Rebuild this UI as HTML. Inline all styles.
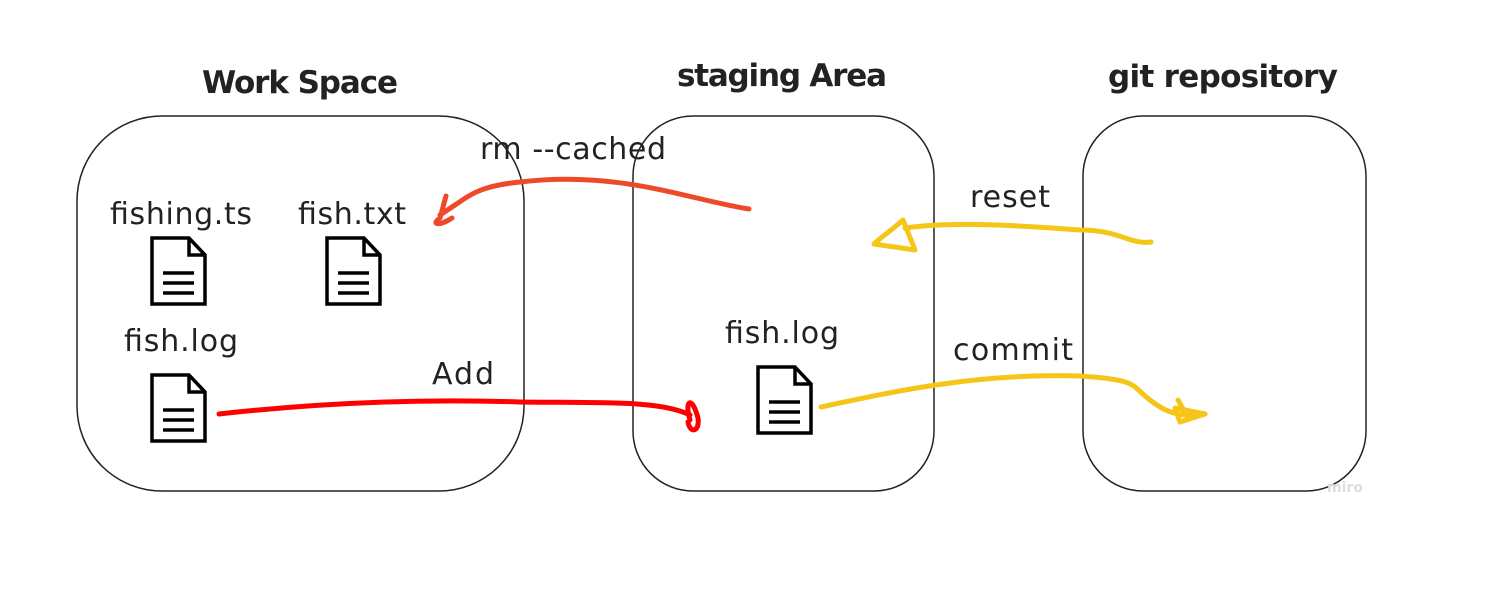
<!DOCTYPE html>
<html><head><meta charset="utf-8"><style>
html,body{margin:0;padding:0;background:#fff;}
svg{display:block;}
text{font-family:"DejaVu Sans","Liberation Sans",sans-serif;fill:#222;}
.t{font-weight:bold;font-size:31px;}
.l{font-size:30px;}
</style></head><body>
<svg width="1490" height="602" viewBox="0 0 1490 602" xmlns="http://www.w3.org/2000/svg">
<rect width="1490" height="602" fill="#fff"/>
<g fill="none" stroke="#222" stroke-width="1.5">
<rect x="77" y="116" width="447" height="375" rx="85"/>
<rect x="633" y="116" width="301" height="375" rx="60"/>
<rect x="1083" y="116" width="283" height="375" rx="60"/>
</g>
<text class="t" x="300" y="93" text-anchor="middle" textLength="196">Work Space</text>
<text class="t" x="782" y="86" text-anchor="middle" textLength="210">staging Area</text>
<text class="t" x="1223" y="87" text-anchor="middle" textLength="230">git repository</text>
<text class="l" x="181" y="224" text-anchor="middle" textLength="142">fishing.ts</text>
<text class="l" x="352" y="224" text-anchor="middle" textLength="108">fish.txt</text>
<text class="l" x="181" y="351" text-anchor="middle" textLength="114">fish.log</text>
<text class="l" x="782" y="343" text-anchor="middle" textLength="114">fish.log</text>
<text class="l" x="573" y="159" text-anchor="middle" textLength="186">rm --cached</text>
<text class="l" x="463" y="384" text-anchor="middle" textLength="62">Add</text>
<text class="l" x="1010" y="207" text-anchor="middle" textLength="80">reset</text>
<text class="l" x="1013" y="360" text-anchor="middle" textLength="120">commit</text>
<defs>
<g id="doc" fill="none" stroke="#000" stroke-width="3.5">
<path d="M1 1 H38 L54 18 V67 H1 Z"/><path d="M38 1 V18 H54"/>
<path d="M12 36 H43 M12 46 H43 M12 56 H43"/>
</g>
</defs>
<use href="#doc" x="151" y="237"/>
<use href="#doc" x="326" y="237"/>
<use href="#doc" x="151" y="374"/>
<use href="#doc" x="757" y="366"/>
<g fill="none" stroke-linecap="round" stroke-linejoin="round" stroke-width="5">
<path stroke="#ee4a2a" d="M749 209 C690 200,620 170,520 182 C480 186,470 195,455 205 L440 215 M446 196 L440 218 C430 225,440 226,452 218"/>
<path stroke="#f00" d="M219 414 C300 405,400 398,520 402 C600 403,660 400,690 415 M690 420 C684 400,692 395,698 418 C700 432,690 434,688 422"/>
<path stroke="#f5c518" d="M1151 242 C1130 245,1120 230,1080 230 C1000 224,950 222,905 228 M903 220 C892 230,880 238,874 244 L915 250 Z"/>
<path stroke="#f5c518" d="M821 407 C900 390,980 373,1080 376 C1140 380,1130 385,1150 400 C1165 412,1180 418,1205 414"/>
<path stroke="#f5c518" d="M1205 414 L1175 408 L1180 422 Z M1178 400 L1188 418"/>
</g>
<text x="1345" y="492" text-anchor="middle" font-size="14" style="fill:#ddd;font-weight:bold">miro</text>
</svg>
</body></html>
